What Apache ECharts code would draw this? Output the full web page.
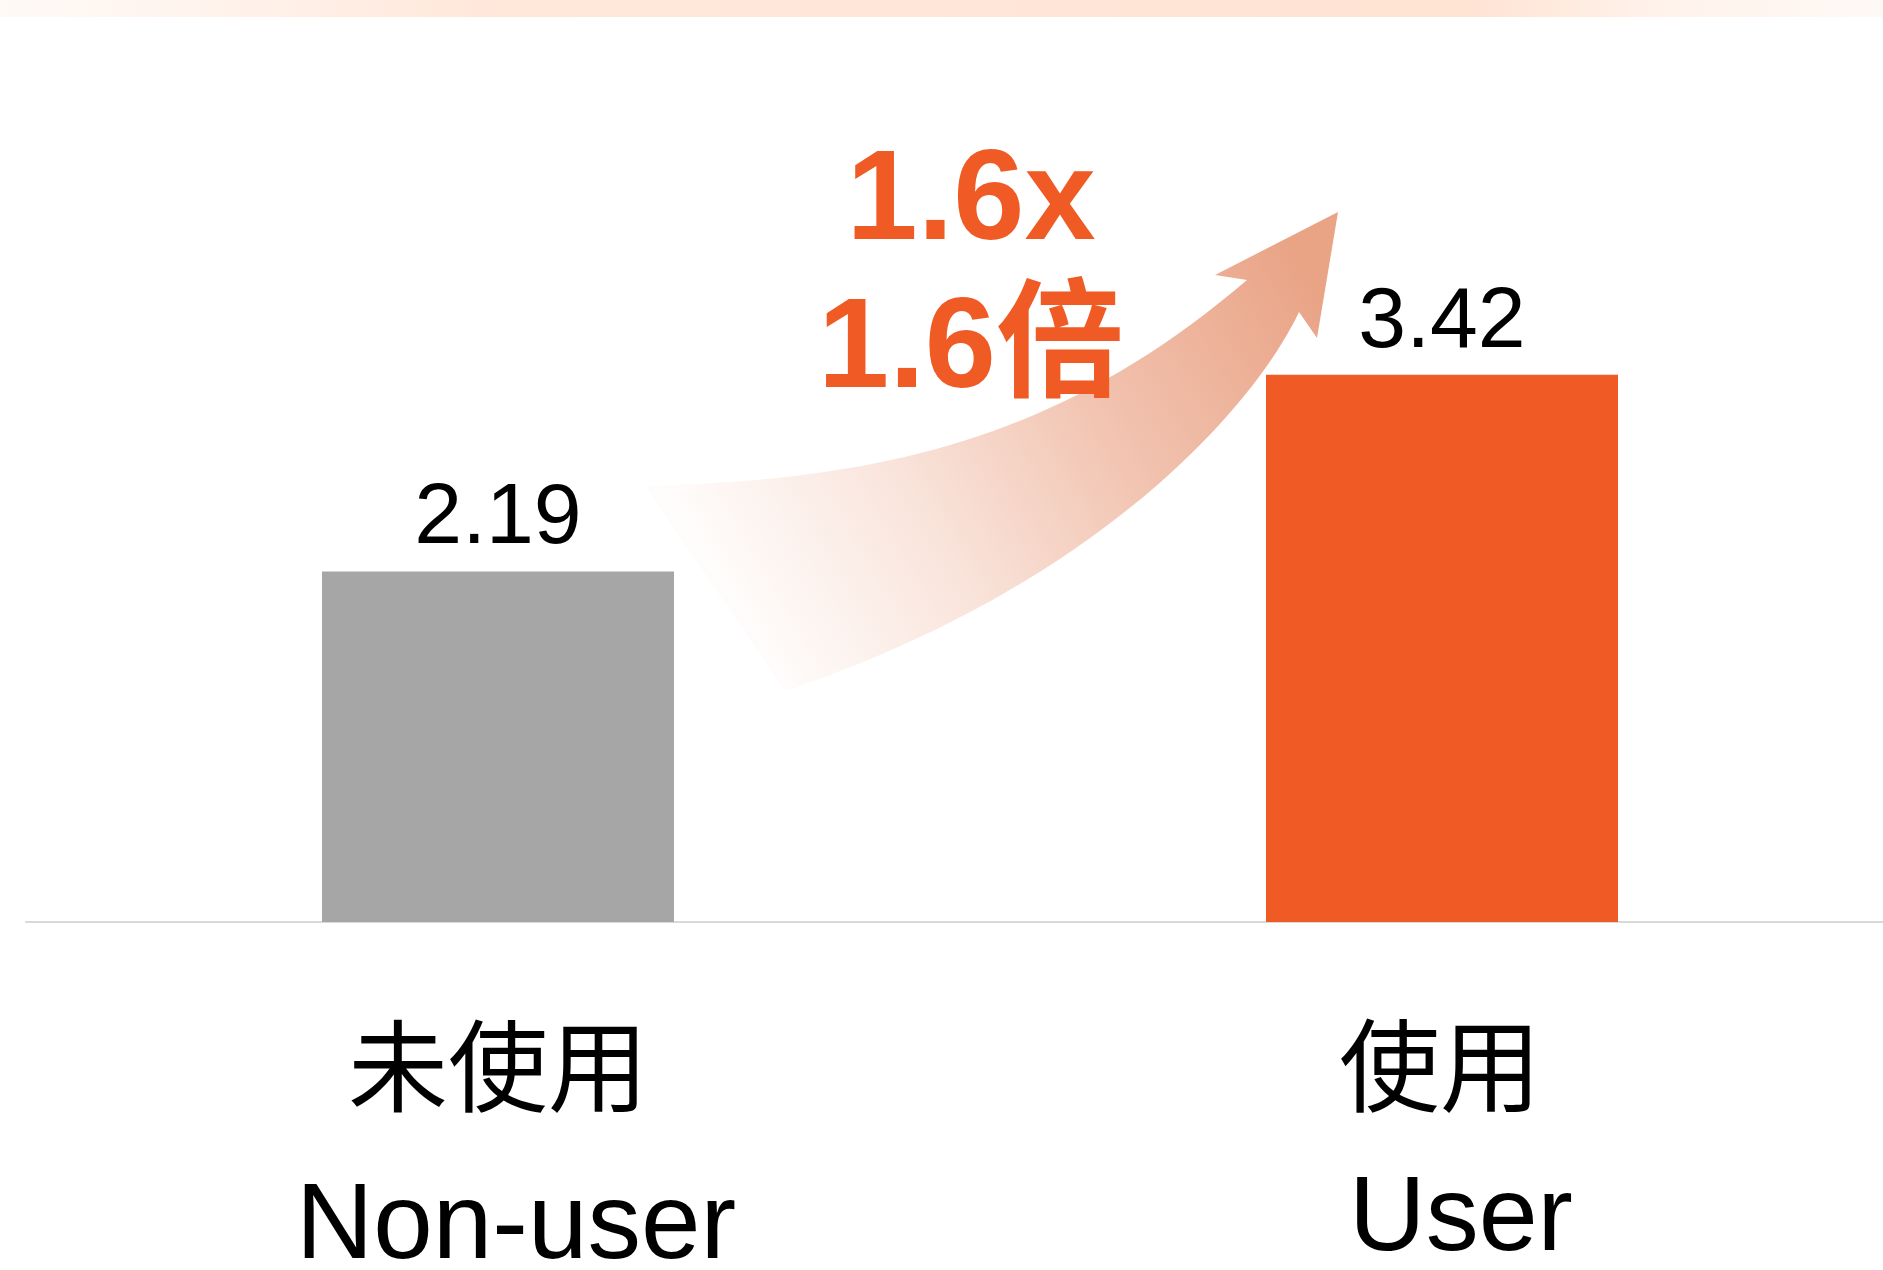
<!DOCTYPE html>
<html><head><meta charset="utf-8">
<script src="https://cdn.jsdelivr.net/npm/echarts@6/dist/echarts.min.js"></script>
<style>html,body{margin:0;padding:0;background:#fff}#c{width:1883px;height:1270px}</style>
</head><body><div id="c"></div>
<script>
const categoriesZh = ['未使用', '使用'];
const categoriesEn = ['Non-user', 'User'];
const values = [2.19, 3.42];
const barColors = ['#A6A6A6', '#F05A24'];
const ratioLabels = ['1.6x', '1.6倍'];

const chart = echarts.init(document.getElementById('c'), null, {renderer: 'canvas'});
const orange = '#F05A24';

// decorative arrow outline built from cubic curves
function cubic(p0, p1, p2, p3, n) {
  const pts = [];
  for (let k = 0; k <= n; k++) {
    const t = k / n, u = 1 - t;
    pts.push([
      u*u*u*p0[0] + 3*u*u*t*p1[0] + 3*u*t*t*p2[0] + t*t*t*p3[0],
      u*u*u*p0[1] + 3*u*u*t*p1[1] + 3*u*t*t*p2[1] + t*t*t*p3[1]
    ]);
  }
  return pts;
}
const arrowPts = []
  .concat(cubic([645, 486], [880, 480], [1060, 440], [1247, 280], 40))
  .concat([[1215, 275], [1338, 212], [1317, 338]])
  .concat(cubic([1299, 312], [1255, 405], [1100, 585], [785, 691], 40));

const option = {
  backgroundColor: '#ffffff',
  animation: false,
  grid: {left: 26, width: 1888, top: 282, height: 640, outerBoundsMode: 'none', containLabel: false},
  xAxis: {
    type: 'category',
    data: categoriesEn,
    axisLine: {show: true, lineStyle: {color: '#D9D9D9', width: 2}},
    axisTick: {show: false},
    axisLabel: {
      interval: 0,
      margin: 69,
      formatter: function (v, i) {
        return '{zh' + i + '|' + categoriesZh[i] + '}\n{en' + i + '|' + categoriesEn[i] + '}';
      },
      rich: {
        zh0: {fontFamily: '"Noto Sans CJK TC"', fontSize: 100, lineHeight: 150, color: '#000', padding: [0, 0, 0, 0]},
        zh1: {fontFamily: '"Noto Sans CJK TC"', fontSize: 101, lineHeight: 150, color: '#000', padding: [0, 4, 0, 0]},
        en0: {fontFamily: '"Liberation Sans"', fontSize: 107, lineHeight: 174, color: '#000', padding: [0, 0, 0, 36]},
        en1: {fontFamily: '"Liberation Sans"', fontSize: 106, lineHeight: 159, color: '#000', padding: [0, 0, 0, 38]}
      }
    }
  },
  yAxis: {
    type: 'value', min: 0, max: 4, show: false,
    splitLine: {show: false}
  },
  series: [{
    type: 'bar',
    barWidth: 352,
    data: values.map(function (v, i) { return {value: v, itemStyle: {color: barColors[i]}}; }),
    label: {
      show: true,
      position: 'top',
      distance: 9,
      fontFamily: '"Liberation Sans"',
      fontSize: 86,
      lineHeight: 86,
      color: '#000',
      formatter: function (p) { return p.value.toFixed(2); }
    }
  }],
  graphic: [
    {
      type: 'rect', silent: true, z: 0,
      shape: {x: 0, y: 0, width: 1883, height: 17},
      style: {
        fill: new echarts.graphic.LinearGradient(0, 0, 1, 0, [
          {offset: 0, color: '#FFFAF6'},
          {offset: 0.1, color: '#FFF4EE'},
          {offset: 0.26, color: '#FFE7DA'},
          {offset: 0.5, color: '#FFE6D8'},
          {offset: 0.78, color: '#FFE3D3'},
          {offset: 0.88, color: '#FFF2EB'},
          {offset: 1, color: '#FFF9F5'}
        ])
      }
    },
    {
      type: 'polygon', silent: true, z: 1,
      shape: {points: arrowPts},
      style: {
        fill: new echarts.graphic.LinearGradient(0.12, 0.8, 0.95, 0.1, [
          {offset: 0, color: 'rgba(236,168,140,0.03)'},
          {offset: 0.3, color: 'rgba(236,168,140,0.3)'},
          {offset: 0.65, color: 'rgba(235,166,138,0.7)'},
          {offset: 1, color: 'rgba(233,163,133,1)'}
        ])
      }
    },
    {
      type: 'text', silent: true, z: 5,
      x: 971, y: 204,
      style: {
        text: ratioLabels[0], fill: orange,
        fontFamily: '"Liberation Sans"', fontWeight: 'bold', fontSize: 128,
        align: 'center', verticalAlign: 'middle'
      }
    },
    {
      type: 'text', silent: true, z: 5,
      x: 971, y: 352,
      style: {
        text: ratioLabels[1], fill: orange,
        fontFamily: '"Liberation Sans", "Noto Sans CJK TC"', fontWeight: 'bold', fontSize: 128,
        align: 'center', verticalAlign: 'middle'
      }
    }
  ]
};
chart.setOption(option);
</script>
</body></html>
